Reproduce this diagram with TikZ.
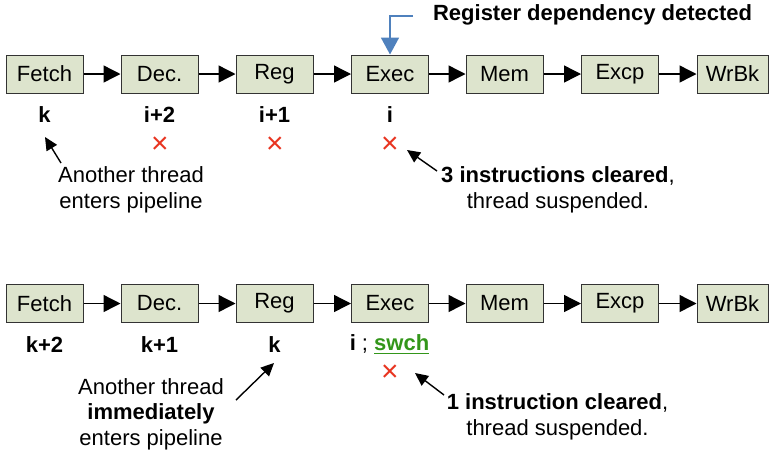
\documentclass[tikz,border=0pt]{standalone}
\usepackage{fontspec}
\setmainfont{Liberation Sans}
\usetikzlibrary{arrows.meta}
\definecolor{stagefill}{RGB}{221,228,205}
\definecolor{hintblue}{RGB}{79,129,189}
\definecolor{clearred}{RGB}{232,52,32}
\definecolor{swchgreen}{RGB}{51,150,26}
\tikzset{
  stage/.style={draw=black!80, fill=stagefill, line width=0.5pt, minimum height=19pt, inner sep=0pt, font=\fontsize{11}{12}\selectfont},
  flow/.style={line width=0.7pt, -{Triangle[length=8.5pt,width=8.5pt]}},
  note/.style={line width=0.7pt, -{Triangle[length=6.5pt,width=6pt]}},
  slot/.style={font=\fontsize{11}{12}\selectfont\bfseries},
  cleared/.style={text=clearred, inner sep=0pt, font=\fontsize{15}{15}\selectfont},
  remark/.style={align=center, font=\fontsize{11}{12.8}\selectfont},
}
\begin{document}
\begin{tikzpicture}[x=0.5pt,y=-0.5pt]
\useasboundingbox (0,0) rectangle (769,456);
\foreach \name/\txt/\x/\w in {fetch/Fetch/44.5/77,dec/Dec./159.5/77,reg/Reg/274.5/77,exec/Exec/390/77,mem/Mem/504.5/77,excp/Excp/620/77,wrbk/WrBk/732.5/71}{
  \node[stage, minimum width=\w*0.5pt] (t\name) at (\x,74) {\txt};
  \node[stage, minimum width=\w*0.5pt] (b\name) at (\x,303.5) {\txt};
}
\foreach \a/\b in {fetch/dec,dec/reg,reg/exec,exec/mem,mem/excp,excp/wrbk}{
  \draw[flow] (t\a.east) -- (t\b.west);
  \draw[flow] (b\a.east) -- (b\b.west);
}

\node[font=\fontsize{11}{12}\selectfont\bfseries, anchor=west] (regdep) at (426,15) {Register dependency detected};
\coordinate (regsrc) at (413,16);
\draw[hintblue, line width=0.9pt, -{Triangle[length=8.5pt,width=9pt]}] (regsrc) -| (texec.north);

\node[slot] (tk) at (44.5,115) {k};
\node[slot] (ti2) at (159.5,115) {i+2};
\node[slot] (ti1) at (274.5,115) {i+1};
\node[slot] (ti) at (390,115) {i};
\node[cleared] (tx2) at (160,145) {×};
\node[cleared] (tx1) at (275,145) {×};
\node[cleared] (tx0) at (390,145) {×};

\node[remark] (tenter) at (131,190) {Another thread\\enters pipeline};
\node[remark] (tclear) at (558,190) {\textbf{3 instructions cleared},\\thread suspended.};
\coordinate (tenterpt) at (45,137);
\coordinate (tclearpt) at (407,150);
\draw[note] (61,163) coordinate (tentersrc) -- (tenterpt);
\draw[note] (437,171) coordinate (tclearsrc) -- (tclearpt);

\node[slot] (bk2) at (44.5,345) {k+2};
\node[slot] (bk1) at (159.5,345) {k+1};
\node[slot] (bk) at (274.5,345) {k};
\node[slot] (bi) at (389.5,345) {i {\mdseries;} \textcolor{swchgreen}{\underline{swch}}};
\node[cleared] (bx0) at (390,373) {×};

\node[remark] (benter) at (151,414) {Another thread\\\textbf{immediately}\\enters pipeline};
\node[remark] (bclear) at (557.5,416.5) {\textbf{1 instruction cleared},\\thread suspended.};
\coordinate (benterpt) at (274,363);
\coordinate (bclearpt) at (415,373);
\draw[note] (236,400) coordinate (bentersrc) -- (benterpt);
\draw[note] (444,395) coordinate (bclearsrc) -- (bclearpt);
\end{tikzpicture}
\end{document}
